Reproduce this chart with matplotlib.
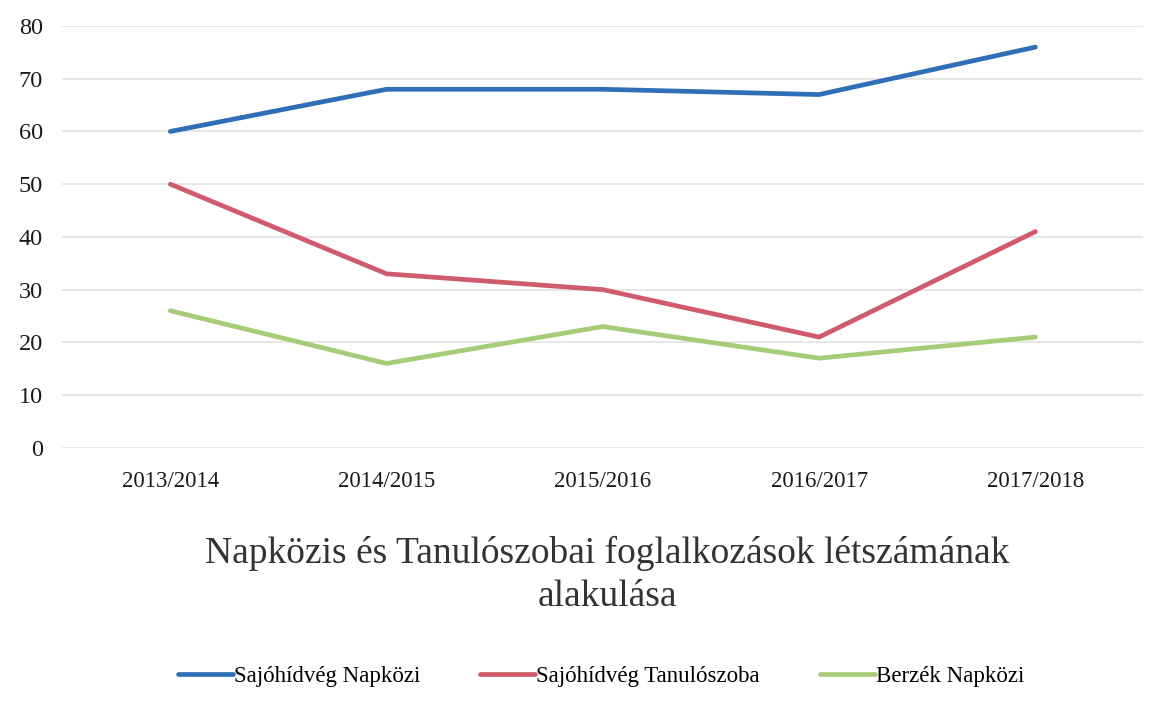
import matplotlib.pyplot as plt
import numpy as np

years = ['2013/2014', '2014/2015', '2015/2016', '2016/2017', '2017/2018']
sajo_napkozi = [60, 68, 68, 67, 76]
sajo_tanulo = [50, 33, 30, 21, 41]
berzek_napkozi = [26, 16, 23, 17, 21]

plt.rcParams['font.family'] = ['Liberation Serif', 'DejaVu Serif']

fig = plt.figure(figsize=(11.74, 7.03), dpi=100)
ax = fig.add_axes([0.053, 0.363, 0.921, 0.6])

x = np.arange(len(years))
ax.plot(x, sajo_napkozi, color='#2f6fb8', lw=3.4, solid_capstyle='round', label='Sajóhídvég Napközi')
ax.plot(x, sajo_tanulo, color='#cf5b6d', lw=3.4, solid_capstyle='round', label='Sajóhídvég Tanulószoba')
ax.plot(x, berzek_napkozi, color='#a6cc78', lw=3.4, solid_capstyle='round', label='Berzék Napközi')

ax.set_xlim(-0.5, 4.5)
ax.set_ylim(0, 80)
ax.set_yticks(range(0, 81, 10))
ax.set_xticks(x)
ax.set_xticklabels(years)
ax.grid(axis='y', color='#e2e2e2', lw=1.2)
ax.set_axisbelow(True)
for s in ax.spines.values():
    s.set_visible(False)
ax.tick_params(axis='both', length=0)
ax.tick_params(axis='y', labelsize=17.5, pad=14, colors='#1a1a1a')
ax.tick_params(axis='x', labelsize=16.5, pad=17, colors='#1a1a1a')

fig.text(0.517, 0.182, 'Napközis és Tanulószobai foglalkozások létszámának\nalakulása',
         ha='center', va='center', fontsize=27, color='#333333', linespacing=1.32)

fig.legend(loc='center', bbox_to_anchor=(0.512, 0.038), ncol=3, frameon=False,
           fontsize=16.5, handlelength=2.4, handletextpad=0.05, columnspacing=2.6)

fig.savefig('out.png', dpi=100)
